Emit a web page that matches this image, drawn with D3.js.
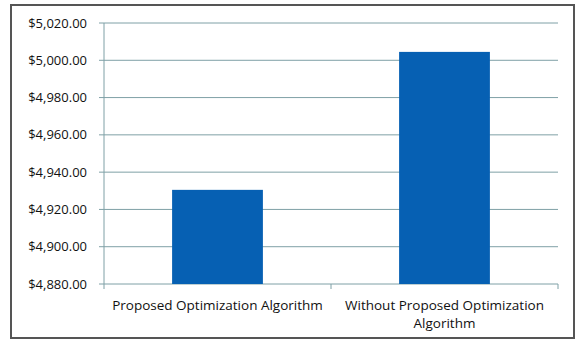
<!DOCTYPE html>
<html lang="en">
<head>
<meta charset="UTF-8">
<title>Cost comparison</title>
<style>
    body { margin: 0; background: #fff; }
    text { font-family: "Open Sans", "Liberation Sans", sans-serif; fill: #111; }
</style>
</head>
<body>
<script src="https://cdn.jsdelivr.net/npm/d3@7"></script>
<script>
    // values
    var categories = ["Proposed Optimization Algorithm", "Without Proposed Optimization Algorithm"];
    var labelLines = [["Proposed Optimization Algorithm"], ["Without Proposed Optimization", "Algorithm"]];
    var costs = [4930.5, 5004.5];
    var yTicks = [4880, 4900, 4920, 4940, 4960, 4980, 5000, 5020];

    var width = 580, height = 341;
    var plotLeft = 104, plotRight = 558, plotTop = 23, plotBottom = 284;
    var gridColor = "#7fa0a6";

    var svg = d3.select("body").append("svg")
        .attr("width", width)
        .attr("height", height);

    // outer frame
    svg.append("rect")
        .attr("x", 11).attr("y", 5)
        .attr("width", 563).attr("height", 333)
        .attr("fill", "none").attr("stroke", "#555").attr("stroke-width", 2);

    var x = d3.scaleBand().domain(categories).range([plotLeft, plotRight])
        .paddingInner(0.6).paddingOuter(0.3);
    var y = d3.scaleLinear().domain([4880, 5020]).range([plotBottom, plotTop]);

    // gridlines
    svg.append("g").selectAll("line").data(yTicks).enter().append("line")
        .attr("x1", plotLeft - 5).attr("x2", plotRight)
        .attr("y1", function(d){ return y(d); }).attr("y2", function(d){ return y(d); })
        .attr("stroke", gridColor).attr("stroke-width", 1);

    // y axis line
    svg.append("line")
        .attr("x1", plotLeft).attr("x2", plotLeft).attr("y1", plotTop).attr("y2", plotBottom + 5)
        .attr("stroke", gridColor);

    // y tick labels
    var fmt = d3.format("$,.2f");
    svg.append("g").selectAll("text").data(yTicks).enter().append("text")
        .attr("x", 87).attr("y", function(d){ return y(d); })
        .attr("dy", "0.35em").attr("text-anchor", "end")
        .attr("font-size", 13)
        .text(function(d){ return fmt(d); });

    // x tick marks between categories
    var step = x.step();
    svg.append("g").selectAll("line").data([x(categories[1]) - step * x.paddingInner() / 2, plotRight]).enter().append("line")
        .attr("x1", function(d){ return d; }).attr("x2", function(d){ return d; })
        .attr("y1", plotBottom).attr("y2", plotBottom + 5)
        .attr("stroke", gridColor);

    // bars
    svg.append("g").selectAll("rect").data(costs).enter().append("rect")
        .attr("x", function(d, i){ return x(categories[i]); })
        .attr("y", function(d){ return y(d); })
        .attr("width", x.bandwidth())
        .attr("height", function(d){ return plotBottom - y(d); })
        .attr("fill", "#0660b3");

    // category labels
    var lab = svg.append("g").selectAll("text").data(labelLines).enter().append("text")
        .attr("text-anchor", "middle")
        .attr("font-size", 13.5)
        .attr("x", function(d, i){ return x(categories[i]) + x.bandwidth() / 2; })
        .attr("y", 310);
    lab.selectAll("tspan").data(function(d){ return d; }).enter().append("tspan")
        .attr("x", function(){ return d3.select(this.parentNode).attr("x"); })
        .attr("dy", function(d, i){ return i === 0 ? 0 : 18; })
        .text(function(d){ return d; });
</script>
</body>
</html>
